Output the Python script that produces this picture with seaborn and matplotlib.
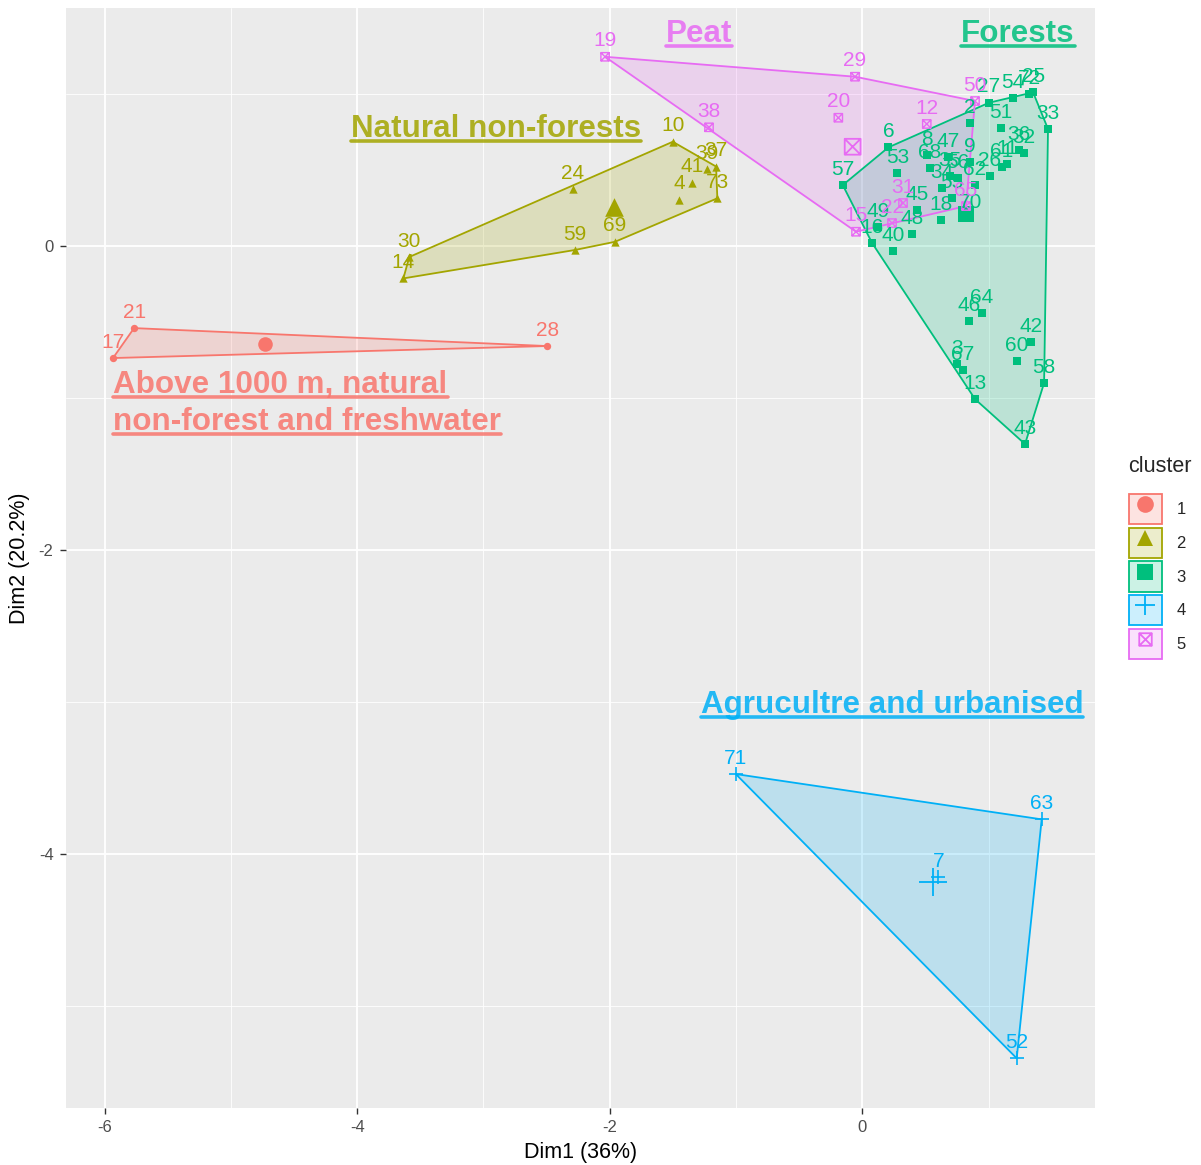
import numpy as np
import pandas as pd
import matplotlib
matplotlib.use("Agg")
import matplotlib.pyplot as plt
import seaborn as sns
from matplotlib.path import Path
from matplotlib.patches import Patch
from matplotlib.lines import Line2D
from matplotlib.legend_handler import HandlerTuple
from matplotlib.colors import to_rgba

# ---- PCA site coordinates, grouped by k-means cluster ----
c1_ids = [17, 21, 28]
c1_dim1 = [-5.933, -5.766, -2.496]
c1_dim2 = [-0.735, -0.538, -0.656]

c2_ids = [10, 24, 30, 14, 59, 69, 4, 41, 39, 37, 73]
c2_dim1 = [-1.501, -2.293, -3.587, -3.634, -2.275, -1.958, -1.449, -1.351, -1.232, -1.158, -1.148]
c2_dim2 = [0.688, 0.375, -0.070, -0.211, -0.024, 0.030, 0.308, 0.418, 0.509, 0.525, 0.316]

c3_ids = [57, 6, 53, 8, 47, 68, 9, 35, 56, 62, 2, 26, 61, 11, 36, 32, 27, 54, 72, 25,
          51, 33, 34, 55, 45, 18, 70, 49, 16, 48, 40, 46, 64, 42, 60, 58, 3, 67, 13, 43]
c3_dim1 = [-0.155, 0.206, 0.277, 0.512, 0.679, 0.536, 0.853, 0.694, 0.758, 0.892,
           0.853, 1.011, 1.106, 1.146, 1.241, 1.280, 1.003, 1.193, 1.320, 1.352,
           1.098, 1.470, 0.631, 0.710, 0.433, 0.623, 0.853, 0.124, 0.077, 0.394,
           0.243, 0.845, 0.948, 1.336, 1.225, 1.439, 0.750, 0.797, 0.892, 1.288]
c3_dim2 = [0.403, 0.651, 0.480, 0.601, 0.588, 0.515, 0.555, 0.463, 0.449, 0.403,
           0.811, 0.463, 0.522, 0.541, 0.634, 0.614, 0.945, 0.974, 1.000, 1.013,
           0.778, 0.772, 0.384, 0.318, 0.239, 0.173, 0.186, 0.127, 0.022, 0.081,
           -0.031, -0.491, -0.439, -0.630, -0.755, -0.899, -0.774, -0.814, -1.005, -1.301]

c4_ids = [71, 63, 52, 7]
c4_dim1 = [-1.002, 1.420, 1.222, 0.602]
c4_dim2 = [-3.472, -3.770, -5.342, -4.151]

c5_ids = [19, 29, 20, 38, 12, 50, 15, 22, 31, 65]
c5_dim1 = [-2.037, -0.058, -0.190, -1.214, 0.510, 0.892, -0.050, 0.235, 0.322, 0.821]
c5_dim2 = [1.247, 1.116, 0.846, 0.783, 0.805, 0.956, 0.096, 0.153, 0.285, 0.265]

cluster_names = ["1", "2", "3", "4", "5"]
cluster_colors = ["#F8766D", "#A3A500", "#00BF7D", "#00B0F6", "#E76BF3"]

x_ticks = [-6, -4, -2, 0]
y_ticks = [-4, -2, 0]

# ---- assemble long table ----
frames = []
for name, ids, d1, d2 in zip(cluster_names,
                             [c1_ids, c2_ids, c3_ids, c4_ids, c5_ids],
                             [c1_dim1, c2_dim1, c3_dim1, c4_dim1, c5_dim1],
                             [c1_dim2, c2_dim2, c3_dim2, c4_dim2, c5_dim2]):
    frames.append(pd.DataFrame({"id": ids, "Dim1": d1, "Dim2": d2, "cluster": name}))
df = pd.concat(frames, ignore_index=True)

# square with a cross inside (ggplot shape 7)
boxed_x = Path([(-1, -1), (1, -1), (1, 1), (-1, 1), (-1, -1),
                (-1, -1), (1, 1), (-1, 1), (1, -1)],
               [Path.MOVETO, Path.LINETO, Path.LINETO, Path.LINETO, Path.CLOSEPOLY,
                Path.MOVETO, Path.LINETO, Path.MOVETO, Path.LINETO])
cluster_markers = ["o", "^", "s", "+", boxed_x]


def convex_hull(points):
    pts = sorted(set(points))
    if len(pts) <= 2:
        return pts

    def cross(o, a, b):
        return (a[0] - o[0]) * (b[1] - o[1]) - (a[1] - o[1]) * (b[0] - o[0])

    lower, upper = [], []
    for p in pts:
        while len(lower) >= 2 and cross(lower[-2], lower[-1], p) <= 0:
            lower.pop()
        lower.append(p)
    for p in reversed(pts):
        while len(upper) >= 2 and cross(upper[-2], upper[-1], p) <= 0:
            upper.pop()
        upper.append(p)
    return lower[:-1] + upper[:-1]


# ---- theme ----
sns.set_theme(style="darkgrid", rc={
    "axes.facecolor": "#EBEBEB",
    "figure.facecolor": "white",
    "grid.color": "white",
    "xtick.bottom": True,
    "ytick.left": True,
    "axes.unicode_minus": False,
})
plt.rcParams["font.family"] = ["Liberation Sans", "DejaVu Sans"]
plt.rcParams["axes.unicode_minus"] = False

W, H = 1201, 1165
fig = plt.figure(figsize=(W / 100, H / 100), dpi=100)
ax = fig.add_axes([66 / W, 1 - 1108 / H, (1095 - 66) / W, 1100 / H])

# hull polygons
for name, col in zip(cluster_names, cluster_colors):
    sub = df[df["cluster"] == name]
    hull = convex_hull(list(zip(sub["Dim1"], sub["Dim2"])))
    hx = [p[0] for p in hull] + [hull[0][0]]
    hy = [p[1] for p in hull] + [hull[0][1]]
    ax.fill(hx, hy, facecolor=to_rgba(col, 0.2), edgecolor="none", zorder=1)
    ax.plot(hx, hy, color=col, lw=1.3, zorder=2)

# points and centroids
point_size = {"o": 28, "^": 36, "s": 30, "+": 110}
centre_size = {"o": 110, "^": 180, "s": 120, "+": 420}
for name, col, mk in zip(cluster_names, cluster_colors, cluster_markers):
    sub = df[df["cluster"] == name]
    cx, cy = sub["Dim1"].mean(), sub["Dim2"].mean()
    if isinstance(mk, Path):
        ax.scatter(sub["Dim1"], sub["Dim2"], marker=mk, s=36, facecolors="none",
                   edgecolors=col, linewidths=1.0, zorder=3)
        ax.scatter([cx], [cy], marker=mk, s=130, facecolors="none",
                   edgecolors=col, linewidths=1.3, zorder=3)
    elif mk == "+":
        sns.scatterplot(data=sub, x="Dim1", y="Dim2", marker=mk, color=col,
                        s=point_size[mk], linewidth=1.2, ax=ax, legend=False, zorder=3)
        ax.scatter([cx], [cy], marker=mk, s=centre_size[mk], color=col,
                   linewidths=1.3, zorder=3)
    else:
        sns.scatterplot(data=sub, x="Dim1", y="Dim2", marker=mk, color=col,
                        s=point_size[mk], linewidth=0, ax=ax, legend=False, zorder=3)
        ax.scatter([cx], [cy], marker=mk, s=centre_size[mk], color=col,
                   linewidths=0, zorder=3)
    for _, r in sub.iterrows():
        ax.annotate(str(r["id"]), (r["Dim1"], r["Dim2"]), xytext=(0, 7.5),
                    textcoords="offset points", ha="center", va="baseline",
                    fontsize=15, color=col, zorder=4)

# ---- axes ----
ax.set_xlim(-6.305, 1.842)
ax.set_ylim(-5.669, 1.568)
ax.set_xticks(x_ticks)
ax.set_yticks(y_ticks)
ax.set_xticklabels([str(t) for t in x_ticks])
ax.set_yticklabels([str(t) for t in y_ticks])
ax.set_xticks([-5, -3, -1, 1], minor=True)
ax.set_yticks([-5, -3, -1, 1], minor=True)
ax.grid(which="major", color="white", lw=1.3)
ax.grid(which="minor", color="white", lw=0.6)
ax.tick_params(which="major", length=4, width=1, color="#333333",
               labelsize=12, labelcolor="#4D4D4D", pad=5)
ax.tick_params(which="minor", length=0)
for sp in ax.spines.values():
    sp.set_visible(False)
ax.set_xlabel("Dim1 (36%)", fontsize=15.5, color="black", labelpad=5)
ax.set_ylabel("Dim2 (20.2%)", fontsize=15.5, color="black", labelpad=6)

# ---- group titles (bold, underlined) ----
title_specs = [
    ("Above 1000 m, natural", -5.929, -0.967, "left", 0),
    ("non-forest and freshwater", -5.929, -1.209, "left", 0),
    ("Natural non-forests", -2.900, 0.721, "center", 1),
    ("Forests", 1.233, 1.344, "center", 2),
    ("Agrucultre and urbanised", 0.235, -3.072, "center", 3),
    ("Peat", -1.293, 1.344, "center", 4),
]
title_texts = []
for txt, tx, ty, ha, ci in title_specs:
    col = to_rgba(cluster_colors[ci], 0.85)
    t = ax.text(tx, ty, txt, ha=ha, va="baseline", fontsize=22.6,
                fontweight="bold", color=col, zorder=5)
    title_texts.append((t, col))

fig.canvas.draw()
inv = fig.transFigure.inverted()
for t, col in title_texts:
    bb = t.get_window_extent()
    base = ax.transData.transform(t.get_position())[1]
    (x0, y0), (x1, _) = inv.transform([(bb.x0, base - 4), (bb.x1, base - 4)])
    fig.add_artist(Line2D([x0, x1], [y0, y0], color=col, lw=2.6, zorder=5))

# ---- legend ----
handles = []
for col, mk in zip(cluster_colors, cluster_markers):
    box = Patch(facecolor=to_rgba(col, 0.2), edgecolor=col, lw=1.3)
    if isinstance(mk, Path):
        mark = Line2D([], [], ls="", marker=mk, ms=9, mfc="none", mec=col, mew=1.3)
    elif mk == "+":
        mark = Line2D([], [], ls="", marker=mk, ms=14, color=col, mew=1.3)
    else:
        mark = Line2D([], [], ls="", marker=mk, ms=12, color=col, mew=0)
    handles.append((box, mark))
fig.text(1128 / W, 1 - 467 / H, "cluster", fontsize=15.5, ha="left", va="center")
leg = fig.legend(handles, cluster_names,
                 handler_map={tuple: HandlerTuple(ndivide=1, pad=0)},
                 loc="upper left",
                 bbox_to_anchor=(1129 / W, 1 - 494 / H),
                 frameon=False, fontsize=12, borderpad=0,
                 handlelength=1.95, handleheight=2.4, labelspacing=0.22,
                 handletextpad=0.9, borderaxespad=0)

fig.savefig("out.png", dpi=100)
